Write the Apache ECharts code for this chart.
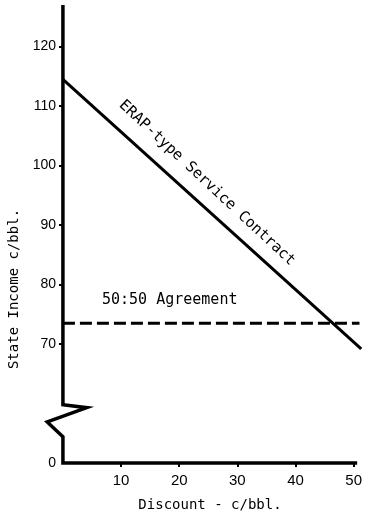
<!DOCTYPE html>
<html><head><meta charset="utf-8">
<script src="https://cdn.jsdelivr.net/npm/echarts@6/dist/echarts.min.js"></script>
<style>html,body{margin:0;padding:0;background:#fff}#c{width:365px;height:524px}</style>
</head><body><div id="c"></div>
<script>
// Data (state income c/bbl vs discount c/bbl)
const erapLine = [[0, 114.5], [51.3, 69.2]];
const agreementLine = [[0, 73.5], [51, 73.5]];
// Axis drawn with break (value 50 on the axis stands for 0)
const yAxisBreakPath = [[0, 127], [0, 59.8], [4.1, 59.3], [-2.7, 56.9], [0, 54.4], [0, 50], [50.6, 50]];
const yTickValues = [70, 80, 90, 100, 110, 120];
const yLabelValues = [50, 70, 80, 90, 100, 110, 120];
const xTickValues = [10, 20, 30, 40, 50];
const yLabelText = {50: '0'};

const mono = 'DejaVu Sans Mono';
const pxPerUnit = 5.84;
const xMin = -3;
const chart = echarts.init(document.getElementById('c'), null, {renderer: 'canvas'});
chart.setOption({
  animation: false,
  backgroundColor: '#fff',
  grid: {left: 63 + xMin * pxPerUnit, right: 2.4, top: 5, bottom: 61},
  xAxis: {
    type: 'value', min: xMin, max: 51.3,
    axisLine: {show: false}, splitLine: {show: false},
    axisTick: {show: true, customValues: xTickValues, length: 4, lineStyle: {color: '#000', width: 2}},
    axisLabel: {customValues: xTickValues, color: '#000', fontFamily: 'Liberation Sans', fontSize: 15, margin: 10}
  },
  yAxis: {
    type: 'value', min: 50, max: 127, offset: xMin * pxPerUnit,
    axisLine: {show: false}, splitLine: {show: false},
    axisTick: {show: true, customValues: yTickValues, length: 4, lineStyle: {color: '#000', width: 2}},
    axisLabel: {customValues: yLabelValues, color: '#000', fontFamily: 'Liberation Sans', fontSize: 14, margin: 7,
      formatter: v => (yLabelText[v] !== undefined ? yLabelText[v] : String(v))}
  },
  series: [
    {type: 'line', data: yAxisBreakPath, symbol: 'none', clip: false, silent: true,
     lineStyle: {color: '#000', width: 3.5, join: 'miter'}},
    {type: 'line', data: erapLine, symbol: 'none', clip: false,
     lineStyle: {color: '#000', width: 3}},
    {type: 'line', data: agreementLine, symbol: 'none', clip: false,
     lineStyle: {color: '#000', width: 3, type: [12, 5]}}
  ],
  graphic: [
    {type: 'text', x: 207, y: 183, rotation: -43 * Math.PI / 180,
     style: {text: 'ERAP-type Service Contract', fill: '#000', font: '15px "' + mono + '"', align: 'center', verticalAlign: 'middle'}},
    {type: 'text', x: 102, y: 300,
     style: {text: '50:50 Agreement', fill: '#000', font: '15px "' + mono + '"', align: 'left', verticalAlign: 'middle'}},
    {type: 'text', x: 210, y: 505,
     style: {text: 'Discount - c/bbl.', fill: '#000', font: '14px "' + mono + '"', align: 'center', verticalAlign: 'middle'}},
    {type: 'text', x: 14, y: 289, rotation: Math.PI / 2,
     style: {text: 'State Income c/bbl.', fill: '#000', font: '14px "' + mono + '"', align: 'center', verticalAlign: 'middle'}}
  ]
});
</script></body></html>
